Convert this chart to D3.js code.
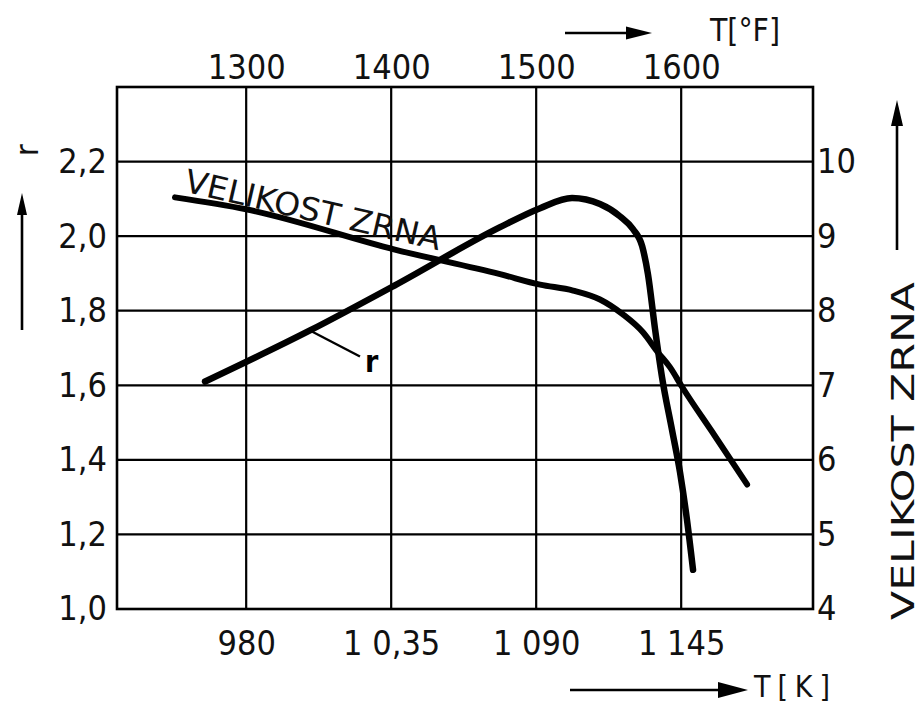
<!DOCTYPE html>
<html><head><meta charset="utf-8">
<script src="https://cdn.jsdelivr.net/npm/d3@7"></script>
<style>body{margin:0;background:#fff}svg{display:block}</style>
</head><body>
<svg id="c" width="923" height="706"></svg>
<script>
// ---- data ----
const kTicks = [980, 1035, 1090, 1145];
const kLabels = ["980", "1 0,35", "1 090", "1 145"];
const fLabels = ["1300", "1400", "1500", "1600"];
const rTicks = [1.0, 1.2, 1.4, 1.6, 1.8, 2.0, 2.2];
const rLabels = ["1,0", "1,2", "1,4", "1,6", "1,8", "2,0", "2,2"];
const gTicks = [4, 5, 6, 7, 8, 9, 10];
const gLabels = ["4", "5", "6", "7", "8", "9", "10"];
// r curve
const rT = [964.4, 1004.2, 1036.4, 1076.3, 1091.5, 1103.6, 1114.2, 1121.8, 1126.7, 1130.2, 1132.4, 1135.1, 1137.7, 1141.5, 1144.6, 1147.2, 1149.5];
const rV = [1.610, 1.747, 1.868, 2.024, 2.075, 2.102, 2.086, 2.053, 2.019, 1.973, 1.898, 1.750, 1.623, 1.481, 1.365, 1.239, 1.105];
// grain size curve (VELIKOST ZRNA)
const gT = [953.0, 980.0, 1036.4, 1076.3, 1091.5, 1104.0, 1114.2, 1122.9, 1130.5, 1136.2, 1140.8, 1145.3, 1157.8, 1170.0];
const gV = [9.52, 9.36, 8.82, 8.49, 8.35, 8.27, 8.15, 7.95, 7.71, 7.44, 7.24, 6.98, 6.32, 5.67];

// ---- layout ----
const L = 117, R = 813, T = 87, B = 609;
const FONT = "'DejaVu Sans Condensed','DejaVu Sans',sans-serif";
const svg = d3.select("#c");
const x = d3.scaleLinear().domain([931, 1195]).range([L, R]);
const y = d3.scaleLinear().domain([1.0, 2.4]).range([B, T]);
const y2 = d3.scaleLinear().domain([4, 11]).range([B, T]);

// gridlines
const grid = svg.append("g").attr("stroke", "#000").attr("stroke-width", 2.2);
grid.selectAll(".v").data(kTicks).join("line")
  .attr("x1", d => x(d)).attr("x2", d => x(d)).attr("y1", T).attr("y2", B);
grid.selectAll(".h").data(rTicks.slice(1)).join("line")
  .attr("x1", L).attr("x2", R).attr("y1", d => y(d)).attr("y2", d => y(d));
// frame
svg.append("rect").attr("x", L).attr("y", T).attr("width", R - L).attr("height", B - T)
  .attr("fill", "none").attr("stroke", "#000").attr("stroke-width", 2.6);

// axes (labels only, via d3 axes)
function styleAxis(g) {
  g.select(".domain").remove();
  g.selectAll(".tick line").remove();
  g.selectAll("text").attr("font-family", FONT).attr("font-size", 34).attr("fill", "#111");
}
svg.append("g").attr("transform", `translate(${L},0)`)
  .call(d3.axisLeft(y).tickValues(rTicks).tickFormat((d, i) => rLabels[i]).tickSize(0).tickPadding(10))
  .call(styleAxis);
svg.append("g").attr("transform", `translate(${R},0)`)
  .call(d3.axisRight(y2).tickValues(gTicks).tickFormat((d, i) => gLabels[i]).tickSize(0).tickPadding(4))
  .call(styleAxis);
svg.append("g").attr("transform", `translate(0,${B})`)
  .call(d3.axisBottom(x).tickValues(kTicks).tickFormat((d, i) => kLabels[i]).tickSize(0).tickPadding(22))
  .call(styleAxis);
svg.append("g").attr("transform", `translate(0,${T})`)
  .call(d3.axisTop(x).tickValues(kTicks).tickFormat((d, i) => fLabels[i]).tickSize(0).tickPadding(8))
  .call(styleAxis);

// curves
const lineR = d3.line().x((d, i) => x(rT[i])).y((d, i) => y(rV[i])).curve(d3.curveMonotoneX);
const lineG = d3.line().x((d, i) => x(gT[i])).y((d, i) => y2(gV[i])).curve(d3.curveMonotoneX);
svg.append("path").attr("d", lineG(gT)).attr("fill", "none").attr("stroke", "#000")
  .attr("stroke-width", 6).attr("stroke-linecap", "round").attr("stroke-linejoin", "round");
svg.append("path").attr("d", lineR(rT)).attr("fill", "none").attr("stroke", "#000")
  .attr("stroke-width", 6.5).attr("stroke-linecap", "round").attr("stroke-linejoin", "round");

// in-plot labels
const gx0 = x(gT[0]) + 8, gy0 = y2(gV[0]) - 6;
svg.append("text").attr("transform", `translate(${gx0},${gy0}) rotate(13)`)
  .attr("font-family", FONT).attr("font-size", 32).attr("fill", "#111")
  .attr("textLength", 262).attr("lengthAdjust", "spacingAndGlyphs")
  .text("VELIKOST ZRNA");
// r leader
const lx = x(rT[1]), ly = y(rV[1]);
svg.append("line").attr("x1", lx).attr("y1", ly).attr("x2", lx + 50).attr("y2", ly + 26)
  .attr("stroke", "#000").attr("stroke-width", 2.4);
svg.append("text").attr("x", lx + 55).attr("y", ly + 42)
  .attr("font-family", FONT).attr("font-size", 30).attr("font-weight", "bold").attr("fill", "#000").text("r");

// axis titles + arrows
function arrow(x1, y1, x2, y2, hl, hw) {
  const a = Math.atan2(y2 - y1, x2 - x1);
  const bx = x2 - hl * Math.cos(a), by = y2 - hl * Math.sin(a);
  svg.append("line").attr("x1", x1).attr("y1", y1).attr("x2", bx).attr("y2", by)
    .attr("stroke", "#000").attr("stroke-width", 2.6);
  const px = -Math.sin(a) * hw / 2, py = Math.cos(a) * hw / 2;
  svg.append("path").attr("d", `M${x2},${y2}L${bx + px},${by + py}L${bx - px},${by - py}Z`).attr("fill", "#000");
}
// top
arrow(565, 33, 652, 33, 26, 13);
svg.append("text").attr("x", 710).attr("y", 41).attr("font-family", FONT).attr("font-size", 32)
  .attr("fill", "#111").attr("textLength", 70).attr("lengthAdjust", "spacingAndGlyphs").text("T[°F]");
// bottom
arrow(570, 690, 748, 690, 30, 16);
svg.append("text").attr("x", 754).attr("y", 697).attr("font-family", FONT).attr("font-size", 30)
  .attr("fill", "#111").attr("textLength", 76).text("T[K]");
// left
arrow(22, 330, 22, 193, 22, 10);
svg.append("text").attr("transform", "translate(38,150) rotate(-90)").attr("text-anchor", "middle")
  .attr("font-family", FONT).attr("font-size", 32).attr("fill", "#111").text("r");
// right
arrow(897, 250, 897, 100, 26, 12);
svg.append("text").attr("transform", "translate(914,620) rotate(-90)").attr("text-anchor", "start")
  .attr("font-family", FONT).attr("font-size", 32).attr("fill", "#111")
  .attr("textLength", 338).attr("lengthAdjust", "spacingAndGlyphs").text("VELIKOST ZRNA");
</script>
</body></html>
